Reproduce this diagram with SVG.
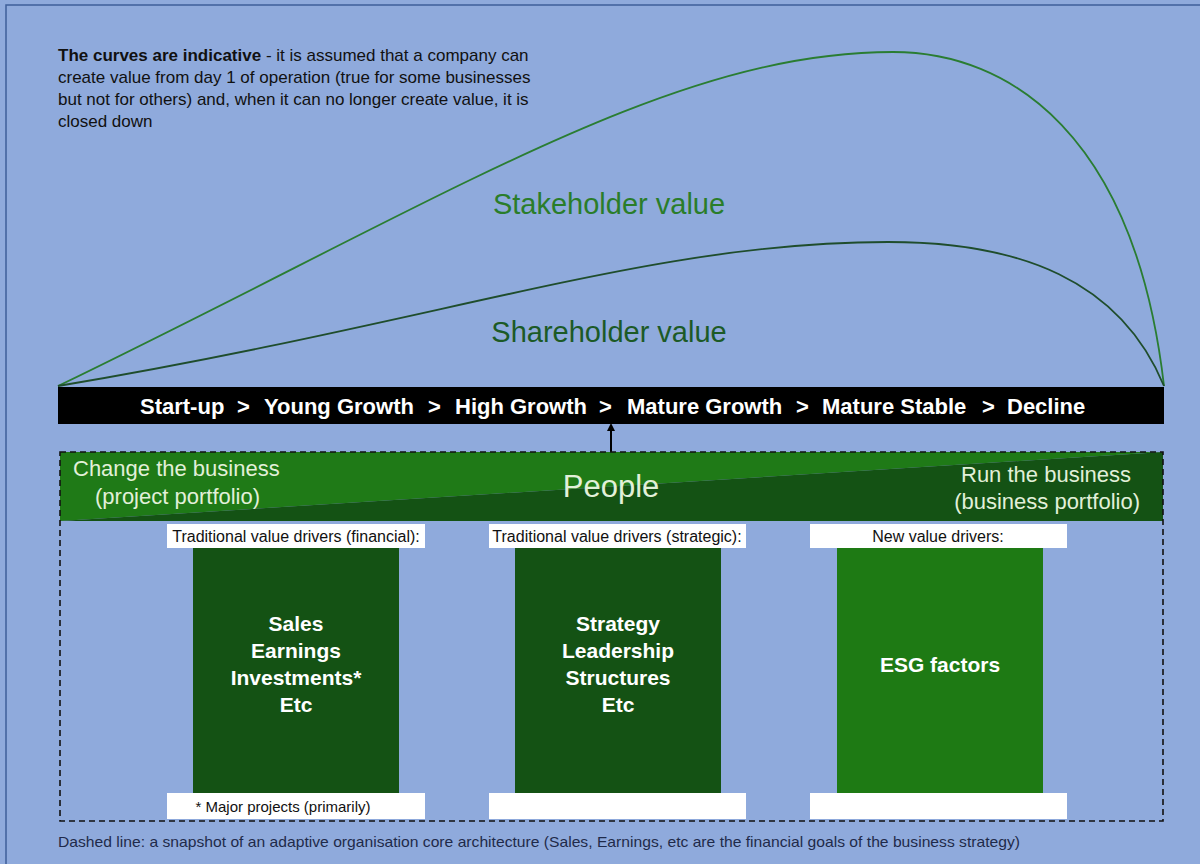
<svg xmlns="http://www.w3.org/2000/svg" width="1200" height="864" viewBox="0 0 1200 864">
<defs>
<style>
.t{font-family:"Liberation Sans",Arial,sans-serif}
.lbl{font-family:"Liberation Sans",Arial,sans-serif;font-size:16px;fill:#111}
.col{font-family:"Liberation Sans",Arial,sans-serif;font-size:21px;font-weight:bold;fill:#ffffff;text-anchor:middle}
.band{font-family:"Liberation Sans",Arial,sans-serif;font-size:22px;fill:#e2f0d9}
.wb{fill:#ffffff}
</style>
<marker id="ah" markerWidth="8" markerHeight="8" refX="4" refY="4" orient="auto" markerUnits="userSpaceOnUse">
<path d="M0,0 L8,4 L0,8 Z" fill="#000"/>
</marker>
</defs>
<rect x="0" y="0" width="1200" height="864" fill="#8faadc"/>
<rect x="6" y="5" width="1200" height="870" fill="none" stroke="#3f5f99" stroke-width="1.5"/>

<g id="note">
<text class="t" x="58" y="61" font-size="17" fill="#111"><tspan font-weight="bold">The curves are indicative</tspan> - it is assumed that a company can</text>
<text class="t" x="58" y="83" font-size="17" fill="#111">create value from day 1 of operation (true for some businesses</text>
<text class="t" x="58" y="105" font-size="17" fill="#111">but not for others) and, when it can no longer create value, it is</text>
<text class="t" x="58" y="127" font-size="17" fill="#111">closed down</text>
</g>

<g id="connectors">
<path id="stakeholder-curve" d="M58,386 C450,196 670,52 893,52 C1010,52 1135,135 1164,386" fill="none" stroke="#2a7d32" stroke-width="1.8"/>
<path id="shareholder-curve" d="M58,386 C450,320 650,242 888,242 C1020,242 1120,280 1164,386" fill="none" stroke="#1f4d2c" stroke-width="1.8"/>
<line x1="611" y1="452" x2="611" y2="427" stroke="#000" stroke-width="2" marker-end="url(#ah)"/>
</g>

<g id="curve-labels">
<text class="t" x="609" y="214" font-size="29" fill="#2a7d2a" text-anchor="middle">Stakeholder value</text>
<text class="t" x="609" y="342" font-size="29" fill="#1c5a26" text-anchor="middle">Shareholder value</text>
</g>

<g id="stages">
<rect x="58" y="387" width="1106" height="37" fill="#000"/>
<text class="t" y="414" font-size="22" font-weight="bold" fill="#fff"><tspan x="140">Start-up</tspan><tspan x="237">&gt;</tspan><tspan x="264">Young Growth</tspan><tspan x="428">&gt;</tspan><tspan x="455">High Growth</tspan><tspan x="599">&gt;</tspan><tspan x="627">Mature Growth</tspan><tspan x="796">&gt;</tspan><tspan x="822">Mature Stable</tspan><tspan x="982">&gt;</tspan><tspan x="1007">Decline</tspan></text>
</g>

<g id="architecture">
<polygon points="60,452 1163,452 60,521" fill="#1f7a17"/>
<polygon points="1163,452 1163,521 60,521" fill="#145214"/>
<rect x="60" y="452" width="1103" height="369" fill="none" stroke="#111" stroke-width="1.6" stroke-dasharray="6,4"/>
<text class="band" x="73" y="476">Change the business</text>
<text class="band" x="95" y="504">(project portfolio)</text>
<text class="band" x="611" y="497" text-anchor="middle" style="font-size:31px">People</text>
<text class="band" x="1131" y="482" text-anchor="end">Run the business</text>
<text class="band" x="1140" y="509" text-anchor="end">(business portfolio)</text>
</g>

<g id="financial">
<rect class="wb" x="167" y="524" width="258" height="24"/>
<text class="lbl" x="296" y="542" text-anchor="middle">Traditional value drivers (financial):</text>
<rect x="193" y="548" width="206" height="245" fill="#145214"/>
<text class="col" x="296" y="631">Sales</text>
<text class="col" x="296" y="658">Earnings</text>
<text class="col" x="296" y="685">Investments*</text>
<text class="col" x="296" y="712">Etc</text>
<rect class="wb" x="167" y="793" width="258" height="26"/>
<text class="lbl" x="283" y="812" text-anchor="middle" style="font-size:15px">* Major projects (primarily)</text>
</g>

<g id="strategic">
<rect class="wb" x="489" y="524" width="257" height="24"/>
<text class="lbl" x="617" y="542" text-anchor="middle">Traditional value drivers (strategic):</text>
<rect x="515" y="548" width="206" height="245" fill="#145214"/>
<text class="col" x="618" y="631">Strategy</text>
<text class="col" x="618" y="658">Leadership</text>
<text class="col" x="618" y="685">Structures</text>
<text class="col" x="618" y="712">Etc</text>
<rect class="wb" x="489" y="793" width="257" height="26"/>
</g>

<g id="new-drivers">
<rect class="wb" x="810" y="524" width="257" height="24"/>
<text class="lbl" x="938" y="542" text-anchor="middle">New value drivers:</text>
<rect x="837" y="548" width="206" height="245" fill="#1e7a14"/>
<text class="col" x="940" y="672">ESG factors</text>
<rect class="wb" x="810" y="793" width="257" height="26"/>
</g>

<g id="footer">
<text class="t" x="58" y="847" font-size="15" fill="#1f2a4a" textLength="962" lengthAdjust="spacingAndGlyphs">Dashed line: a snapshot of an adaptive organisation core architecture (Sales, Earnings, etc are the financial goals of the business strategy)</text>
</g>
</svg>
